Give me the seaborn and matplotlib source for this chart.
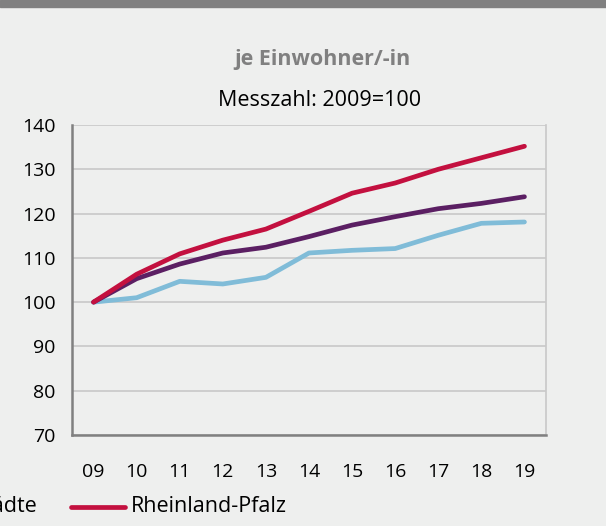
import matplotlib
matplotlib.use("Agg")
import matplotlib.pyplot as plt
import seaborn as sns
import pandas as pd
import numpy as np
from matplotlib.lines import Line2D

years = ["09", "10", "11", "12", "13", "14", "15", "16", "17", "18", "19"]
rlp = [100, 106.3, 110.9, 114.0, 116.5, 120.5, 124.6, 126.9, 130.0, 132.6, 135.2]
landkreise = [100, 105.3, 108.6, 111.1, 112.4, 114.8, 117.4, 119.3, 121.1, 122.3, 123.8]
staedte = [100, 101.0, 104.7, 104.1, 105.6, 111.1, 111.7, 112.1, 115.1, 117.8, 118.1]
yticks = [70, 80, 90, 100, 110, 120, 130, 140]

series_names = ["Kreisfreie Städte", "Landkreise", "Rheinland-Pfalz"]
colors = {"Kreisfreie Städte": "#80bcd8", "Landkreise": "#5b1f63", "Rheinland-Pfalz": "#c3103f"}

df = pd.DataFrame({
    "pos": list(range(len(years))) * 3,
    "value": staedte + landkreise + rlp,
    "series": [series_names[0]] * len(years) + [series_names[1]] * len(years) + [series_names[2]] * len(years),
})

sns.set_style("white")
plt.rcParams["font.family"] = ["Open Sans", "DejaVu Sans"]
bg = "#eeefee"

fig = plt.figure(figsize=(6.06, 5.26), dpi=100, facecolor=bg)
ax = fig.add_axes([72 / 606, 1 - 435 / 526, (546 - 72) / 606, (435 - 125) / 526])
ax.set_facecolor(bg)

sns.lineplot(data=df, x="pos", y="value", hue="series", palette=colors,
             hue_order=series_names, linewidth=3.4, ax=ax, legend=False,
             solid_capstyle="round")

ax.set_xlim(-0.5, len(years) - 0.5)
ax.set_ylim(70, 140)
ax.set_yticks(yticks)
ax.set_yticklabels([str(v) for v in yticks], fontsize=14, color="black")
ax.yaxis.grid(True, color="#c8c8c8", linewidth=1.2)
ax.set_axisbelow(True)

ax.set_xticks(np.arange(-0.5, len(years), 1.0))
ax.set_xticklabels([])
ax.set_xticks(np.arange(len(years)), minor=True)
ax.set_xticklabels(years, minor=True, fontsize=14, color="black")
ax.tick_params(axis="x", which="major", length=7, width=1.2, color="#808080", direction="out")
ax.tick_params(axis="x", which="minor", length=0, pad=20)
ax.tick_params(axis="y", length=6, width=1.2, color="#808080", direction="out", pad=6)
ax.set_xlabel("")
ax.set_ylabel("")

for s in ["left", "bottom"]:
    ax.spines[s].set_color("#808080")
    ax.spines[s].set_linewidth(1.8)
ax.spines["top"].set_visible(False)
ax.spines["right"].set_color("#c8c8c8")
ax.spines["right"].set_linewidth(1.2)

# top gray band
fig.patches.append(plt.Rectangle((0, 1 - 7 / 526), 1, 7 / 526, transform=fig.transFigure,
                                 color="#808080", zorder=5))

fig.text(322 / 606, 1 - 60 / 526, "je Einwohner/-in", ha="center", va="center",
         fontsize=15.5, fontweight="bold", color="#808080")
fig.text(320 / 606, 1 - 100 / 526, "Messzahl: 2009=100", ha="center", va="center",
         fontsize=15.5, color="black")

# legend (cropped on the left)
ly = 1 - 507 / 526
fig.text(37 / 606, ly, "Kreisfreie Städte", ha="right", va="center", fontsize=15.5, color="black")
fig.add_artist(Line2D([71 / 606, 125 / 606], [ly, ly], transform=fig.transFigure,
                      color=colors["Rheinland-Pfalz"], linewidth=3.4))
fig.text(131 / 606, ly, "Rheinland-Pfalz", ha="left", va="center", fontsize=15.5, color="black")

fig.savefig("out.png", dpi=100, facecolor=bg)
